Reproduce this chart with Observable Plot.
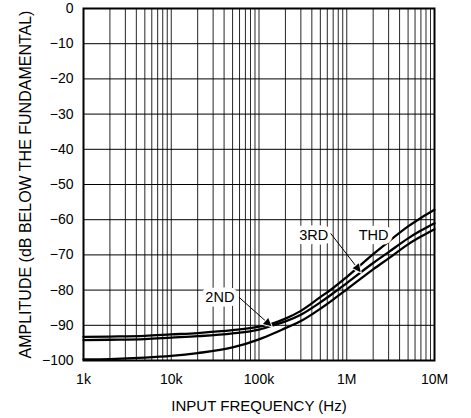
<!DOCTYPE html>
<html><head><meta charset="utf-8">
<script src="https://cdn.jsdelivr.net/npm/d3@7"></script>
<script src="https://cdn.jsdelivr.net/npm/@observablehq/plot@0.6"></script>
<style>body{margin:0;background:#fff}</style>
</head><body><div id="chart"></div>
<script>
// Data
const freq   = [1e3, 2e3, 5e3, 1e4, 2e4, 5e4, 1e5, 1.5e5, 2e5, 3e5, 5e5, 7e5, 1e6, 2e6, 3e6, 5e6, 7e6, 1e7];
const thd    = [-93.3, -93.2, -93.0, -92.6, -92.2, -91.4, -90.4, -89.3, -88.1, -85.9, -82.0, -79.4, -76.3, -69.8, -66.2, -61.9, -59.5, -57.2];
const second = [-94.2, -94.1, -93.9, -93.5, -93.1, -92.3, -91.2, -89.9, -88.9, -87.0, -83.5, -80.9, -78.0, -72.3, -69.2, -65.3, -63.1, -61.0];
const third  = [-99.7, -99.6, -99.2, -98.7, -97.9, -96.3, -94.0, -92.2, -90.8, -88.8, -85.3, -82.7, -79.8, -74.1, -71.0, -67.0, -64.8, -62.7];

const xTickValues = [1e3, 1e4, 1e5, 1e6, 1e7];
const xTickLabels = ["1k", "10k", "100k", "1M", "10M"];
const yTickValues = [0, -10, -20, -30, -40, -50, -60, -70, -80, -90, -100];
const yTickLabels = ["0", "−10", "−20", "−30", "−40", "−50", "−60", "−70", "−80", "−90", "−100"];

const labelText = ["2ND", "3RD", "THD"];
const labelFreq = [35.8e3, 420e3, 2.02e6];
const labelDb   = [-82.1, -64.5, -64.5];

const arrowFromFreq = [59e3, 656e3];
const arrowFromDb   = [-82.0, -63.9];
const arrowToFreq   = [139e3, 1.44e6];
const arrowToDb     = [-90.3, -74.9];

const xLabel = "INPUT FREQUENCY (Hz)";
const yLabel = "AMPLITUDE (dB BELOW THE FUNDAMENTAL)";

// derived tables
const series = (vals) => freq.map((f, i) => ({f, v: vals[i]}));
const gridX = [];
for (let d = 1e3; d < 1e7; d *= 10) for (let m = 1; m < 10; m++) gridX.push(d * m);
gridX.push(1e7);
const labels = labelText.map((t, i) => ({t, f: labelFreq[i], db: labelDb[i]}));
const arrows = arrowFromFreq.map((f, i) => ({f1: f, d1: arrowFromDb[i], f2: arrowToFreq[i], d2: arrowToDb[i]}));

const font = "'Liberation Sans', Arial, sans-serif";
const plot = Plot.plot({
  width: 471, height: 418,
  marginLeft: 83, marginRight: 37, marginTop: 8, marginBottom: 58,
  style: {fontFamily: font, fontSize: "14px", color: "black", background: "white", overflow: "visible"},
  x: {type: "log", domain: [1e3, 1e7], ticks: xTickValues,
      tickFormat: d => xTickLabels[xTickValues.indexOf(d)], tickSize: 0, tickPadding: 14,
      label: xLabel, labelAnchor: "center", labelOffset: 50},
  y: {domain: [-100, 0], ticks: yTickValues,
      tickFormat: d => yTickLabels[yTickValues.indexOf(d)], tickSize: 0, tickPadding: 10,
      label: yLabel, labelAnchor: "center", labelOffset: 64},
  marks: [
    Plot.ruleX(gridX, {stroke: "black", strokeWidth: 1, strokeOpacity: 0.85}),
    Plot.ruleY(yTickValues, {stroke: "black", strokeWidth: 1}),
    Plot.frame({stroke: "black", strokeWidth: 2}),
    Plot.line(series(third),  {x: "f", y: "v", stroke: "black", strokeWidth: 2.3, curve: "monotone-x"}),
    Plot.line(series(second), {x: "f", y: "v", stroke: "black", strokeWidth: 2.3, curve: "monotone-x"}),
    Plot.line(series(thd),    {x: "f", y: "v", stroke: "black", strokeWidth: 2.3, curve: "monotone-x"}),
    Plot.text(labels, {x: "f", y: "db", text: "t", fill: "white", stroke: "white", strokeWidth: 9, fontSize: 14.5}),
    Plot.text(labels, {x: "f", y: "db", text: "t", fill: "black", fontSize: 14.5}),
    Plot.link(arrows, {x1: "f1", y1: "d1", x2: "f2", y2: "d2", stroke: "black", strokeWidth: 1})
  ]
});

const svg = plot.tagName.toLowerCase() === "svg" ? plot : plot.querySelector("svg");

// strip the automatic direction arrows from the axis labels and size them
svg.querySelectorAll("text").forEach(t => {
  const s = t.textContent;
  if (s.includes(xLabel)) {
    t.textContent = xLabel;
    t.setAttribute("font-size", "15");
    t.style.fontSize = "15px";
  } else if (s.includes(yLabel)) {
    t.textContent = yLabel;
    t.setAttribute("font-size", "16");
    t.style.fontSize = "16px";
  }
});

// filled arrowheads with white halo
const ns = "http://www.w3.org/2000/svg";
const defs = document.createElementNS(ns, "defs");
const marker = document.createElementNS(ns, "marker");
marker.setAttribute("id", "ahead");
marker.setAttribute("viewBox", "0 0 10 10");
marker.setAttribute("refX", "10");
marker.setAttribute("refY", "5");
marker.setAttribute("markerWidth", "12");
marker.setAttribute("markerHeight", "8");
marker.setAttribute("markerUnits", "userSpaceOnUse");
marker.setAttribute("orient", "auto");
marker.setAttribute("overflow", "visible");
const mp = document.createElementNS(ns, "path");
mp.setAttribute("d", "M0,0L10,5L0,10z");
mp.setAttribute("fill", "black");
mp.setAttribute("stroke", "white");
mp.setAttribute("stroke-width", "2.5");
mp.setAttribute("paint-order", "stroke");
marker.appendChild(mp);
defs.appendChild(marker);
svg.insertBefore(defs, svg.firstChild);
svg.querySelectorAll('g[aria-label="link"] path, g[aria-label="link"] line').forEach(p => p.setAttribute("marker-end", "url(#ahead)"));

document.getElementById("chart").appendChild(plot);
</script>
</body></html>
